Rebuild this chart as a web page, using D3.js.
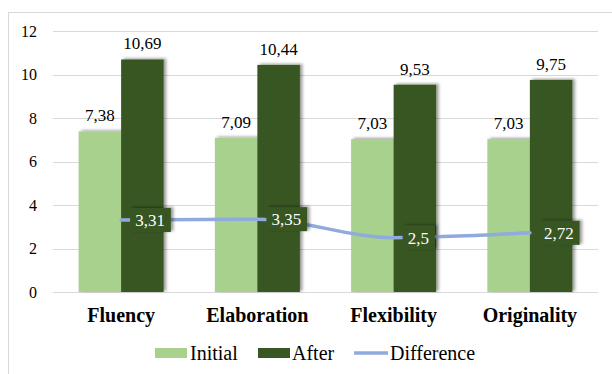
<!DOCTYPE html>
<html>
<head>
<meta charset="utf-8">
<script src="https://cdn.jsdelivr.net/npm/d3@7"></script>
<style>
  html, body { margin: 0; padding: 0; background: #fff; }
  svg { display: block; }
</style>
</head>
<body>
<svg id="chart" width="612" height="374"></svg>
<script>
// Chart data
const categories = ["Fluency", "Elaboration", "Flexibility", "Originality"];
const initialValues = [7.38, 7.09, 7.03, 7.03];
const afterValues = [10.69, 10.44, 9.53, 9.75];
const differenceValues = [3.31, 3.35, 2.5, 2.72];
const yTicks = [0, 2, 4, 6, 8, 10, 12];
const seriesNames = ["Initial", "After", "Difference"];

const colors = { Initial: "#A9D18E", After: "#385723", Difference: "#8FAADC" };
const FONT = "'Liberation Serif', 'Times New Roman', Tinos, serif";
const fmt = v => String(v).replace(".", ",");

const svg = d3.select("#chart").style("font-family", FONT);
const W = 612, H = 374;
const plot = { left: 53, right: 598, top: 31, bottom: 292 };

// Soft outer shadow used on bars and label boxes
const defs = svg.append("defs");
const f = defs.append("filter").attr("id", "shadow")
  .attr("x", "-30%").attr("y", "-30%").attr("width", "160%").attr("height", "160%");
f.append("feDropShadow").attr("dx", 2.5).attr("dy", -1).attr("stdDeviation", 1.8)
  .attr("flood-color", "#000").attr("flood-opacity", 0.4);

// Chart frame
svg.append("rect").attr("x", 8.5).attr("y", 12.5).attr("width", W).attr("height", H)
  .attr("fill", "none").attr("stroke", "#d9d9d9").attr("stroke-width", 1);

// Scales
const x0 = d3.scaleBand().domain(categories).range([plot.left, plot.right])
  .paddingInner(0.376).paddingOuter(0.188);
const x1 = d3.scaleBand().domain(["Initial", "After"]).range([0, x0.bandwidth()]);
const y = d3.scaleLinear().domain([0, 12]).range([plot.bottom, plot.top]);

// Gridlines
svg.append("g").selectAll("line").data(yTicks).join("line")
  .attr("x1", plot.left).attr("x2", plot.right)
  .attr("y1", d => Math.round(y(d)) + 0.5).attr("y2", d => Math.round(y(d)) + 0.5)
  .attr("stroke", "#d9d9d9").attr("stroke-width", 1);

// Y axis labels
const yAxis = d3.axisLeft(y).tickValues(yTicks).tickSize(0).tickPadding(0).tickFormat(d => d);
const gy = svg.append("g").attr("transform", `translate(37,0)`).call(yAxis)
  .attr("font-family", null).attr("font-size", null);
gy.select(".domain").remove();
gy.selectAll("text").style("font-family", FONT).style("font-size", "16px").attr("fill", "#000");

// X axis category labels
const xAxis = d3.axisBottom(x0).tickSize(0).tickPadding(0);
const gx = svg.append("g").attr("transform", `translate(0,308)`).call(xAxis)
  .attr("font-family", null).attr("font-size", null);
gx.select(".domain").remove();
gx.selectAll("text").style("font-family", FONT).style("font-size", "20px")
  .style("font-weight", "bold").attr("fill", "#000").attr("dy", "0.7em");

// Bars
const rows = categories.map((c, i) => ({ c, Initial: initialValues[i], After: afterValues[i] }));
const groups = svg.append("g").selectAll("g").data(rows).join("g")
  .attr("transform", d => `translate(${x0(d.c)},0)`);
const barData = d => ["Initial", "After"].map(k => ({ k, v: d[k] }));
groups.selectAll("rect").data(barData).join("rect")
  .attr("x", d => x1(d.k)).attr("width", x1.bandwidth())
  .attr("y", d => y(d.v)).attr("height", d => y(0) - y(d.v))
  .attr("fill", d => colors[d.k]).attr("filter", "url(#shadow)");

// Bar value labels
groups.selectAll("text").data(barData).join("text")
  .attr("x", d => x1(d.k) + x1.bandwidth() / 2).attr("y", d => y(d.v) - 10)
  .attr("text-anchor", "middle").style("font-family", FONT).style("font-size", "17px")
  .attr("fill", "#000").text(d => fmt(d.v));

// Difference line
const cx = c => x0(c) + x0.bandwidth() / 2;
const line = d3.line().x((d, i) => cx(categories[i])).y(d => y(d)).curve(d3.curveMonotoneX);
svg.append("path").datum(differenceValues).attr("d", line)
  .attr("fill", "none").attr("stroke", colors.Difference).attr("stroke-width", 3.5)
  .attr("stroke-linecap", "round");

// Difference labels in dark boxes to the right of each point
const dl = svg.append("g").selectAll("g").data(differenceValues).join("g")
  .attr("transform", (d, i) => `translate(${cx(categories[i]) + 9},${y(d)})`);
dl.append("rect").attr("fill", colors.After).attr("filter", "url(#shadow)");
const labels = dl.append("text").attr("x", 5).attr("y", 6)
  .style("font-family", FONT).style("font-size", "17px").attr("fill", "#fff").text(d => fmt(d));
labels.each(function () {
  const w = this.getComputedTextLength();
  d3.select(this.parentNode).select("rect")
    .attr("x", 0).attr("y", -12).attr("width", w + 11).attr("height", 24);
});

// Legend
const lg = svg.append("g").attr("transform", "translate(0,353)");
lg.append("rect").attr("x", 155).attr("y", -5).attr("width", 32).attr("height", 10).attr("fill", colors.Initial);
lg.append("rect").attr("x", 258).attr("y", -5).attr("width", 32).attr("height", 10).attr("fill", colors.After);
lg.append("line").attr("x1", 354).attr("x2", 388).attr("y1", 0).attr("y2", 0)
  .attr("stroke", colors.Difference).attr("stroke-width", 3.5);
lg.selectAll("text").data(seriesNames).join("text")
  .attr("x", (d, i) => [190, 292, 390][i]).attr("y", 7)
  .style("font-family", FONT).style("font-size", "20px").attr("fill", "#000").text(d => d);
</script>
</body>
</html>
